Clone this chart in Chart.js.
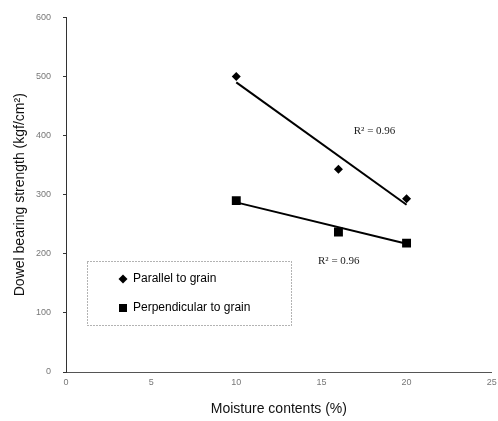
<!DOCTYPE html>
<html>
<head>
<meta charset="utf-8">
<script src="https://cdn.jsdelivr.net/npm/chart.js@4/dist/chart.umd.min.js"></script>
<style>
html,body{margin:0;padding:0;background:#fff;}
#wrap{width:498px;height:421px;position:relative;}
</style>
</head>
<body>
<div id="wrap"><canvas id="c" width="498" height="421"></canvas></div>
<script>
// ---- data ----
const moisture = [10, 16, 20];
const parallelValues = [500, 343, 293];
const perpendicularValues = [290, 237, 218];
const trendX = [10, 20];
const parallelTrend = [490, 283];
const perpendicularTrend = [287, 217];
const seriesLabels = ["Parallel to grain", "Perpendicular to grain"];
const r2Texts = ["R\u00B2 = 0.96", "R\u00B2 = 0.96"];
const r2AtX = [16.9, 14.8];
const r2AtY = [408, 187];
const xTicks = [0, 5, 10, 15, 20, 25];
const yTicks = [0, 100, 200, 300, 400, 500, 600];

const toPts = (xs, ys) => xs.map((x, i) => ({x: x, y: ys[i]}));

const legendPlugin = {
  id: 'boxLegend',
  afterDraw(chart) {
    const ctx = chart.ctx;
    ctx.save();
    ctx.strokeStyle = '#666';
    ctx.lineWidth = 1;
    ctx.setLineDash([1, 2]);
    ctx.strokeRect(87.5, 261.5, 204, 64);
    ctx.setLineDash([]);
    ctx.fillStyle = '#000';
    const dx = 123, dy = 279;
    ctx.beginPath();
    ctx.moveTo(dx, dy - 4.5); ctx.lineTo(dx + 4.5, dy); ctx.lineTo(dx, dy + 4.5); ctx.lineTo(dx - 4.5, dy);
    ctx.closePath(); ctx.fill();
    ctx.fillRect(119, 304, 8, 8);
    ctx.font = '12px "Liberation Sans", Arial, sans-serif';
    ctx.textBaseline = 'middle';
    ctx.textAlign = 'left';
    ctx.fillText(chart.data.datasets[0].label, 133, 279);
    ctx.fillText(chart.data.datasets[1].label, 133, 308);
    const xs = chart.scales.x, ys = chart.scales.y;
    ctx.font = '11px "Liberation Serif", "Times New Roman", serif';
    ctx.fillStyle = '#222';
    r2Texts.forEach((t, i) => {
      ctx.fillText(t, xs.getPixelForValue(r2AtX[i]), ys.getPixelForValue(r2AtY[i]));
    });
    ctx.restore();
  }
};

new Chart(document.getElementById('c'), {
  type: 'scatter',
  data: {
    datasets: [
      {label: seriesLabels[0], data: toPts(moisture, parallelValues), pointStyle: 'rectRot', pointRadius: 4.5, pointHoverRadius: 4.5, backgroundColor: '#000', borderColor: '#000', borderWidth: 0},
      {label: seriesLabels[1], data: toPts(moisture, perpendicularValues), pointStyle: 'rect', pointRadius: 6.3, pointHoverRadius: 6.3, backgroundColor: '#000', borderColor: '#000', borderWidth: 0},
      {label: 'trend1', data: toPts(trendX, parallelTrend), showLine: true, pointRadius: 0, borderColor: '#000', borderWidth: 2, fill: false},
      {label: 'trend2', data: toPts(trendX, perpendicularTrend), showLine: true, pointRadius: 0, borderColor: '#000', borderWidth: 2, fill: false}
    ]
  },
  options: {
    responsive: false,
    animation: false,
    events: [],
    layout: {padding: {top: 12, right: 0, left: 0, bottom: 0}},
    plugins: {legend: {display: false}, tooltip: {enabled: false}},
    scales: {
      x: {
        type: 'linear', min: 0, max: 25,
        afterBuildTicks: s => { s.ticks = xTicks.map(v => ({value: v})); },
        afterFit: s => { s.height = 49; s.paddingRight = 3; s.paddingLeft = 0; },
        grid: {display: true, drawOnChartArea: false, drawTicks: false},
        border: {display: true, color: '#555', width: 1},
        ticks: {padding: 5, color: '#777', font: {family: '"Liberation Sans", Arial, sans-serif', size: 9}},
        title: {display: true, text: 'Moisture contents (%)', color: '#111', padding: {top: 0, bottom: 3}, font: {family: '"Liberation Sans", Arial, sans-serif', size: 14}}
      },
      y: {
        type: 'linear', min: 0, max: 600,
        afterBuildTicks: s => { s.ticks = yTicks.map(v => ({value: v})); },
        afterFit: s => { s.width = 66; },
        grid: {display: true, drawOnChartArea: false, drawTicks: true, tickLength: 3, color: '#333'},
        border: {display: true, color: '#333', width: 1},
        ticks: {padding: 12, color: '#777', font: {family: '"Liberation Sans", Arial, sans-serif', size: 9}},
        title: {display: true, text: 'Dowel bearing strength (kgf/cm\u00B2)', color: '#111', padding: {top: 12, bottom: 0}, font: {family: '"Liberation Sans", Arial, sans-serif', size: 14}}
      }
    }
  },
  plugins: [legendPlugin]
});
</script>
</body>
</html>
